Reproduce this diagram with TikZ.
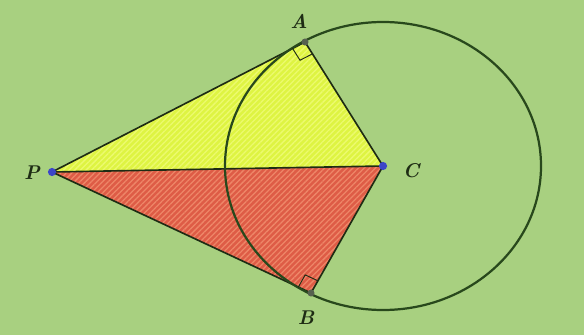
\documentclass[tikz,border=0pt]{standalone}
\usepackage{tikz}
\usetikzlibrary{calc,patterns.meta}
\definecolor{tanbg}{RGB}{168,208,128}
\definecolor{tanyellow}{RGB}{222,244,66}
\definecolor{tanyellowln}{RGB}{236,250,110}
\definecolor{tanred}{RGB}{222,92,70}
\definecolor{tanredln}{RGB}{238,134,104}
\definecolor{tanink}{RGB}{30,44,20}
\definecolor{tancircle}{RGB}{40,72,28}
\definecolor{tanblue}{RGB}{60,70,200}
\tikzset{
  tanfillA/.style={fill=tanyellow},
  tanfillB/.style={fill=tanred},
  tanhatchA/.style={pattern={Lines[angle=45,distance=3.4pt,line width=1.1pt]},
    pattern color=tanyellowln},
  tanhatchB/.style={pattern={Lines[angle=45,distance=3.4pt,line width=1.1pt]},
    pattern color=tanredln},
  tanedge/.style={draw=tanink, line width=1.4pt, line join=round},
  tanright/.style={draw=tanink, line width=0.8pt},
  tandot/.style={circle, fill=tanblue, inner sep=0pt, minimum size=7pt},
  tantouch/.style={circle, fill=tanink!75, inner sep=0pt, minimum size=6pt},
  tanlabel/.style={font=\fontsize{17}{19}\selectfont\bfseries\itshape, text=tanink},
}

\begin{document}
\begin{tikzpicture}[x=0.03cm, y=-0.03cm]
  \fill[tanbg] (0,0) rectangle (584,335);
  \useasboundingbox (0,0) rectangle (584,335);
  \coordinate (P) at (52,172);
  \coordinate (C) at (383,166);
  \coordinate (A) at (305,42);
  \coordinate (B) at (311,293);
  \fill[tanfillA] (P) -- (A) -- (C) -- cycle;
  \fill[tanhatchA] (P) -- (A) -- (C) -- cycle;
  \fill[tanfillB] (P) -- (B) -- (C) -- cycle;
  \fill[tanhatchB] (P) -- (B) -- (C) -- cycle;
  \draw[tanedge] (P) -- (A) -- (C) -- (B) -- cycle;
  \draw[tanedge] (P) -- (C);
  \draw[tancircle, line width=1.9pt] (C) ellipse [x radius=4.74cm, y radius=4.32cm];
  % right angles
  \coordinate (Ap) at ($(A)!0.42cm!(P)$);
  \coordinate (Ac) at ($(A)!0.42cm!(C)$);
  \coordinate (Bp) at ($(B)!0.42cm!(P)$);
  \coordinate (Bc) at ($(B)!0.42cm!(C)$);
  \draw[tanright] (Ap) -- ($(Ap)+(Ac)-(A)$) -- (Ac);
  \draw[tanright] (Bp) -- ($(Bp)+(Bc)-(B)$) -- (Bc);
  \node[tandot] (dotP) at (P) {};
  \node[tandot] (dotC) at (C) {};
  \node[tantouch] (dotA) at (A) {};
  \node[tantouch] (dotB) at (B) {};
  \node[tanlabel] (labA) at (299,21) {A};
  \node[tanlabel] (labB) at (306,318) {B};
  \node[tanlabel] (labC) at (411,171) {C};
  \node[tanlabel] (labP) at (32,173) {P};
\end{tikzpicture}
\end{document}
